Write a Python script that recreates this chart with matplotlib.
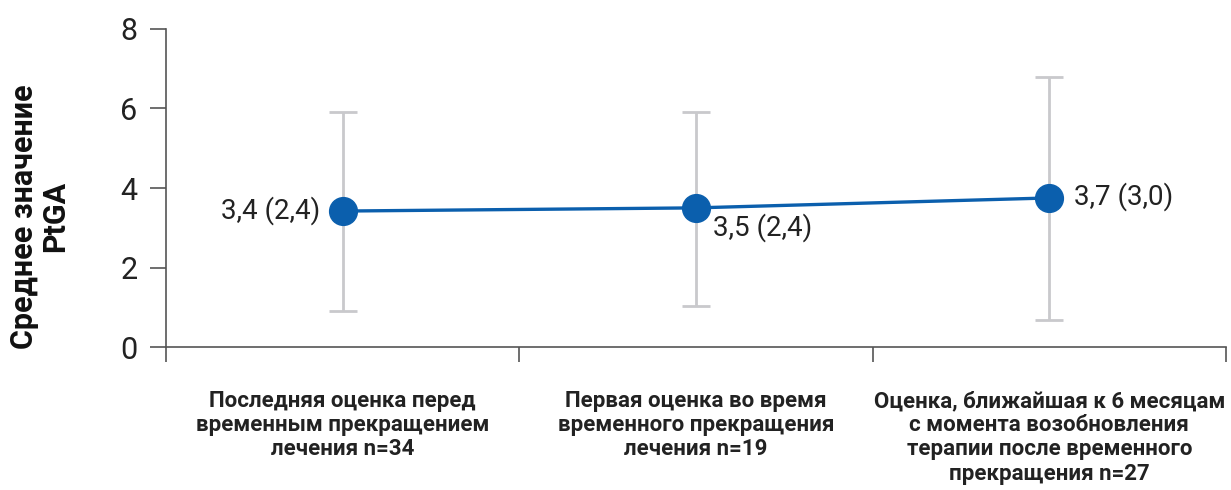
import matplotlib
matplotlib.use("Agg")
import matplotlib.pyplot as plt
import numpy as np

plt.rcParams['font.family'] = ['Roboto', 'DejaVu Sans']

# Data
CATEGORIES = [
    "Последняя оценка перед\nвременным прекращением\nлечения n=34",
    "Первая оценка во время\nвременного прекращения\nлечения n=19",
    "Оценка, ближайшая к 6 месяцам\nс момента возобновления\nтерапии после временного\nпрекращения n=27",
]
MEANS = [3.42, 3.50, 3.75]
ERR_LOW = [2.52, 2.47, 3.07]
ERR_HIGH = [2.48, 2.42, 3.03]
VALUE_LABELS = ["3,4 (2,4)", "3,5 (2,4)", "3,7 (3,0)"]
Y_TICKS = [0, 2, 4, 6, 8]

BLUE = "#0b5fad"
GREY = "#c9c9cc"
AXIS = "#555555"

fig = plt.figure(figsize=(12.31, 4.9), dpi=100)
ax = fig.add_axes([166 / 1231, 1 - 347 / 490, (1226 - 166) / 1231, (347 - 29) / 490])

x = np.arange(len(CATEGORIES))
ax.errorbar(x, MEANS, yerr=[ERR_LOW, ERR_HIGH], fmt="none", ecolor=GREY,
            elinewidth=2, capsize=10, capthick=2, zorder=1)
ax.plot(x, MEANS, color=BLUE, linewidth=2.4, marker="o", markersize=20, zorder=3)

# value labels
offsets = [(-16, 0, "right", "center"), (12, -14, "left", "center"), (18, 1, "left", "center")]
for xi, yi, txt, (dx, dy, ha, va) in zip(x, MEANS, VALUE_LABELS, offsets):
    ax.annotate(txt, (xi, yi), xytext=(dx, dy), textcoords="offset points",
                ha=ha, va=va, fontsize=20, color="#222222")

ax.set_xlim(-0.5, 2.5)
ax.set_ylim(0, 8)
ax.set_yticks(Y_TICKS)
ax.set_xticks(x)
ax.set_xticklabels(CATEGORIES, fontsize=16, fontweight="bold", color="#222222",
                   linespacing=1.13, va="top")
ax.set_xticks([-0.5, 0.5, 1.5, 2.5], minor=True)
ax.tick_params(axis="x", which="major", length=0, pad=31)
ax.tick_params(axis="x", which="minor", length=11, width=1.2, color=AXIS, direction="out")
ax.tick_params(axis="y", length=11.5, width=1.2, color=AXIS, labelsize=22, pad=9,
               labelcolor="#222222")

for side in ["top", "right"]:
    ax.spines[side].set_visible(False)
for side in ["left", "bottom"]:
    ax.spines[side].set_color(AXIS)
    ax.spines[side].set_linewidth(1.2)

ax.set_ylabel("Среднее значение\nPtGA", fontsize=22, fontweight="bold",
              color="#111111", linespacing=1.05)
ax.yaxis.set_label_coords(-0.090, 0.41)

fig.savefig("out.png", dpi=100)
